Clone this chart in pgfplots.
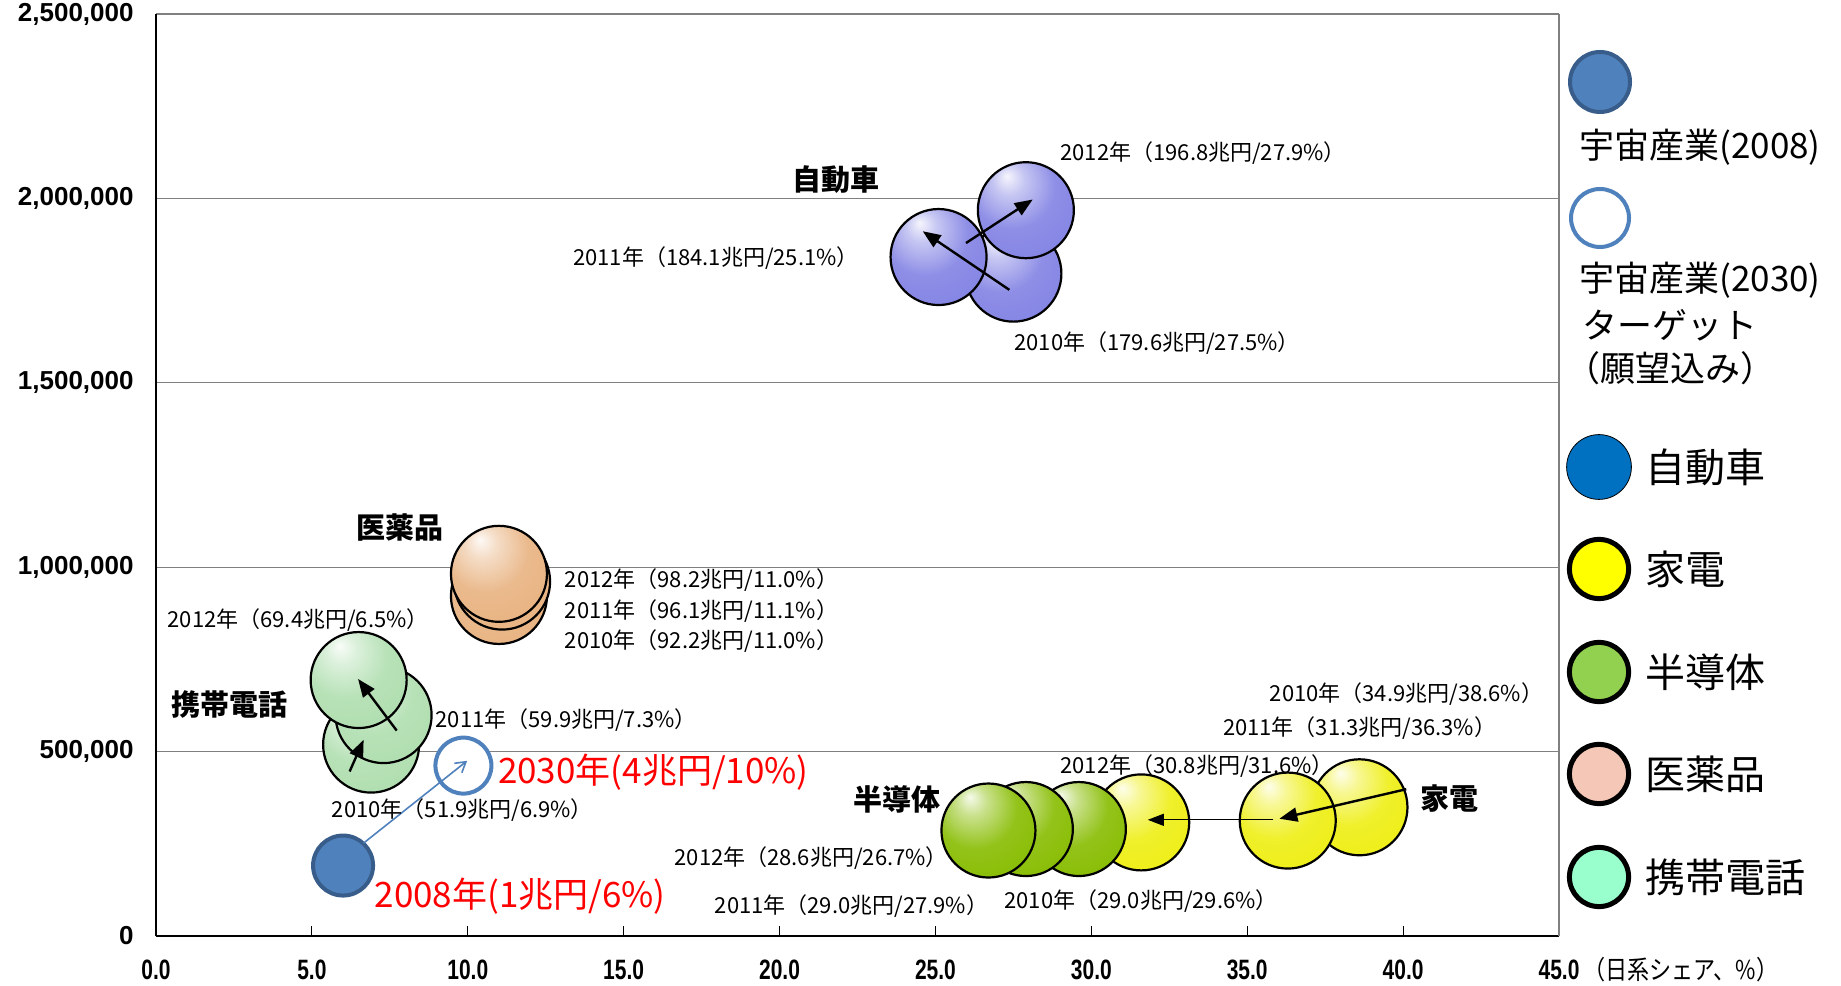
\documentclass[border=0pt]{standalone}
\usepackage{fontspec}
\usepackage{pgfplots}
\pgfplotsset{compat=1.18}
\usetikzlibrary{arrows.meta}
\setmainfont{Noto Sans CJK JP}
\newfontfamily\jp{Noto Sans CJK JP}
\newfontfamily\tickf{Liberation Sans}
\newfontfamily\xtickf[FakeStretch=0.75]{Liberation Sans}
\newfontfamily\axlab[FakeStretch=0.85]{Noto Sans CJK JP}

\definecolor{carc}{RGB}{130,130,228}
\definecolor{medc}{RGB}{232,178,128}
\definecolor{phc}{RGB}{175,222,175}
\definecolor{hac}{RGB}{238,238,20}
\definecolor{sec}{RGB}{135,188,0}
\definecolor{s08}{RGB}{79,129,189}
\definecolor{s08b}{RGB}{56,93,138}
\definecolor{lcar}{RGB}{0,112,192}
\definecolor{lha}{RGB}{255,255,0}
\definecolor{lse}{RGB}{146,208,80}
\definecolor{lmed}{RGB}{244,199,183}
\definecolor{lph}{RGB}{153,255,204}
\definecolor{gridc}{RGB}{128,128,128}

\newcommand\defsphere[2]{%
 \pgfdeclareradialshading{sh#1}{\pgfpoint{-10bp}{18bp}}{%
  color(0bp)=(#2!8!white); color(8bp)=(#2!45!white); color(22bp)=(#2!90!white);
  color(40bp)=(#2); color(55bp)=(#2!85!black); color(70bp)=(#2!75!black)}%
 \pgfdeclareplotmark{sp#1}{%
  \pgfpathcircle{\pgfpointorigin}{\pgfplotmarksize}\pgfshadepath{sh#1}{0}%
  \pgfpathcircle{\pgfpointorigin}{\pgfplotmarksize}\pgfusepathqstroke}}
\defsphere{car}{carc}
\defsphere{med}{medc}
\defsphere{ph}{phc}
\defsphere{ha}{hac}
\defsphere{se}{sec}

\pgfplotsset{
 mainframe/.style={
  at={(78pt,24.5pt)}, anchor=south west,
  scale only axis, width=701.5pt, height=461pt,
  xmin=0, xmax=45, ymin=0, ymax=2500000, clip=false},
 arr/.style={black, line width=1.2pt, -{Triangle[length=9pt,width=7pt]}},
}

\begin{document}
\begin{tikzpicture}
\path[use as bounding box] (0,0) rectangle (920.5pt,492.5pt);
\begin{axis}[
 mainframe,
 xtick={0,5,...,45}, ytick={0,500000,...,2500000},
 scaled y ticks=false, scaled x ticks=false,
 axis lines*=left,
 axis line style={black, line width=1pt},
 ymajorgrids, major grid style={gridc, line width=0.6pt},
 extra x ticks={45}, extra x tick labels={},
 extra x tick style={grid=major, major tick length=0pt},
 tick align=inside,
 xtick style={black, line width=0.5pt},
 major tick length=5pt,
 ytick style={draw=none},
 /pgf/number format/assume math mode=true,
 yticklabel style={font=\tickf\bfseries\fontsize{13}{13}\selectfont, inner sep=0pt, xshift=-11pt,
   /pgf/number format/fixed, /pgf/number format/1000 sep={,}},
 xticklabel style={font=\xtickf\bfseries\fontsize{14}{14}\selectfont, inner sep=0pt, yshift=-12pt,
   /pgf/number format/fixed, /pgf/number format/fixed zerofill, /pgf/number format/precision=1},
]
% 医薬品
\addplot[only marks, mark=spmed, mark size=24pt, mark options={draw=black, line width=1.1pt}]
 coordinates {(11.0,922000) (11.1,961000) (11.0,982000)};
% 携帯電話
\addplot[only marks, mark=spph, mark size=24pt, mark options={draw=black, line width=1.1pt}]
 coordinates {(6.9,519000) (7.3,599000) (6.5,694000)};
% 自動車
\addplot[only marks, mark=spcar, mark size=24pt, mark options={draw=black, line width=1.1pt}]
 coordinates {(27.5,1796000) (25.1,1841000) (27.9,1968000)};
% 家電
\addplot[only marks, mark=spha, mark size=24pt, mark options={draw=black, line width=1.1pt}]
 coordinates {(38.6,349000) (36.3,313000) (31.6,308000)};
% 半導体
\addplot[only marks, mark=spse, mark size=23.5pt, mark options={draw=black, line width=1.1pt}]
 coordinates {(29.6,290000) (27.9,290000) (26.7,286000)};
% 宇宙産業
\addplot[only marks, mark=*, mark size=15pt, mark options={fill=s08, draw=s08b, line width=2pt}] coordinates {(6.0,191000)};
\addplot[only marks, mark=*, mark size=14pt, mark options={fill=white, draw=s08, line width=2pt}] coordinates {(9.86,462000)};
\node[anchor=west, inner sep=0pt, xshift=12pt, yshift=-17pt, font=\axlab\fontsize{13}{13}\selectfont] at (rel axis cs:1,0) {（日系シェア、\%）};
\end{axis}

% overlay: arrows and labels
\begin{axis}[mainframe, axis lines=none]
\addplot[arr] coordinates {(7.72,557000) (6.48,697000)};
\addplot[arr] coordinates {(6.21,446000) (6.66,532000)};
\addplot[arr] coordinates {(27.37,1752000) (24.59,1911000)};
\addplot[arr] coordinates {(25.98,1879000) (28.12,1997000)};
\addplot[arr] coordinates {(40.1,398000) (36.03,318000)};
\addplot[black, line width=0.6pt, -{Triangle[length=8pt,width=6pt]}] coordinates {(35.84,315000) (31.81,315000)};
\addplot[s08, line width=0.8pt, -{Straight Barb[length=5pt,width=6pt]}] coordinates {(6.66,252000) (9.98,475000)};

\begin{scope}[every node/.style={inner sep=0pt, font=\jp\fontsize{11}{11}\selectfont}]
\node[font=\jp\bfseries\fontsize{14.5}{14.5}\selectfont] at (axis cs:21.8,2051000) {自動車};
\node[anchor=west] at (axis cs:29.0,2124000) {2012年（196.8兆円/27.9\%）};
\node[anchor=east] at (axis cs:22.55,1838000) {2011年（184.1兆円/25.1\%）};
\node[anchor=west] at (axis cs:27.52,1608000) {2010年（179.6兆円/27.5\%）};
\node[font=\jp\bfseries\fontsize{14.5}{14.5}\selectfont] at (axis cs:7.83,1108000) {医薬品};
\node[anchor=west] at (axis cs:13.1,965000) {2012年（98.2兆円/11.0\%）};
\node[anchor=west] at (axis cs:13.1,882000) {2011年（96.1兆円/11.1\%）};
\node[anchor=west] at (axis cs:13.1,799000) {2010年（92.2兆円/11.0\%）};
\node at (axis cs:4.56,857000) {2012年（69.4兆円/6.5\%）};
\node[font=\jp\bfseries\fontsize{14.5}{14.5}\selectfont] at (axis cs:2.37,627000) {携帯電話};
\node[anchor=west] at (axis cs:8.96,586000) {2011年（59.9兆円/7.3\%）};
\node at (axis cs:9.83,341000) {2010年（51.9兆円/6.9\%）};
\node[anchor=east] at (axis cs:44.5,656000) {2010年（34.9兆円/38.6\%）};
\node[anchor=east] at (axis cs:43.0,564000) {2011年（31.3兆円/36.3\%）};
\node[anchor=west] at (axis cs:29.0,462000) {2012年（30.8兆円/31.6\%）};
\node[font=\jp\bfseries\fontsize{14.5}{14.5}\selectfont] at (axis cs:41.5,373000) {家電};
\node[font=\jp\bfseries\fontsize{14.5}{14.5}\selectfont] at (axis cs:23.76,369000) {半導体};
\node[anchor=east] at (axis cs:25.41,210000) {2012年（28.6兆円/26.7\%）};
\node[anchor=east] at (axis cs:26.7,80000) {2011年（29.0兆円/27.9\%）};
\node[anchor=west] at (axis cs:27.2,96000) {2010年（29.0兆円/29.6\%）};
\node[anchor=west, text=red, font=\jp\fontsize{17.5}{17.5}\selectfont] at (axis cs:10.96,443000) {2030年(4兆円/10\%)};
\node[anchor=west, text=red, font=\jp\fontsize{17.5}{17.5}\selectfont] at (axis cs:7.0,108000) {2008年(1兆円/6\%)};
\end{scope}
\end{axis}

% legend
\begin{axis}[
 at={(780pt,0pt)}, anchor=south west,
 scale only axis, width=140.5pt, height=492.5pt,
 xmin=1560, xmax=1841, ymin=-985, ymax=0,
 axis lines=none, clip=false,
]
\addplot[only marks, mark=*, mark size=15pt, mark options={fill=s08, draw=s08b, line width=2pt}] coordinates {(1600,-82)};
\addplot[only marks, mark=*, mark size=14.5pt, mark options={fill=white, draw=s08, line width=2pt}] coordinates {(1600,-218)};
\addplot[only marks, mark=*, mark size=16.2pt, mark options={fill=lcar, draw=none}] coordinates {(1599,-467)};
\addplot[only marks, mark=*, mark size=14.8pt, mark options={fill=lha, draw=black, line width=2.5pt}] coordinates {(1599,-569)};
\addplot[only marks, mark=*, mark size=14.8pt, mark options={fill=lse, draw=black, line width=2.5pt}] coordinates {(1599,-672)};
\addplot[only marks, mark=*, mark size=14.8pt, mark options={fill=lmed, draw=black, line width=2.5pt}] coordinates {(1599,-774)};
\addplot[only marks, mark=*, mark size=14.8pt, mark options={fill=lph, draw=black, line width=2.5pt}] coordinates {(1599,-877)};
\begin{scope}[every node/.style={inner sep=0pt, font=\jp\fontsize{17.5}{17.5}\selectfont}]
\node at (axis cs:1700,-147) {宇宙産業(2008)};
\node at (axis cs:1700,-280) {宇宙産業(2030)};
\node at (axis cs:1670,-325) {ターゲット};
\node at (axis cs:1670,-368) {（願望込み）};
\end{scope}
\begin{scope}[every node/.style={inner sep=0pt, anchor=west, font=\jp\fontsize{20}{20}\selectfont}]
\node at (axis cs:1645,-467) {自動車};
\node at (axis cs:1645,-569) {家電};
\node at (axis cs:1645,-672) {半導体};
\node at (axis cs:1645,-774) {医薬品};
\node at (axis cs:1645,-877) {携帯電話};
\end{scope}
\end{axis}
\end{tikzpicture}
\end{document}
